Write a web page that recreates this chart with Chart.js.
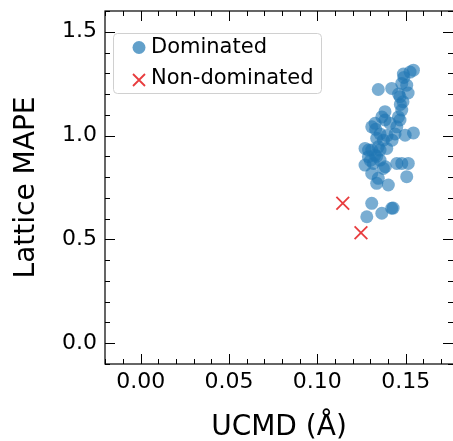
<!DOCTYPE html>
<html>
<head>
<meta charset="utf-8">
<script src="https://cdn.jsdelivr.net/npm/chart.js@4.4.1/dist/chart.umd.min.js"></script>
<style>
  html, body { margin: 0; padding: 0; background: #fff; overflow: hidden; }
  #wrap { width: 453px; height: 441px; position: relative; }
</style>
</head>
<body>
<div id="wrap"><canvas id="chart" width="453" height="441"></canvas></div>
<script>
// =====================
// DATA
// =====================
const domX = [
  0.1544, 0.1487, 0.1525, 0.1345, 0.1421, 0.1478, 0.1506, 0.1514, 0.1468, 0.1485,
  0.1478, 0.1459, 0.1383, 0.1365, 0.1327, 0.1308, 0.1355, 0.1412, 0.1450, 0.1468,
  0.1544, 0.1497, 0.1440, 0.1374, 0.1336, 0.1270, 0.1308, 0.1345, 0.1393, 0.1289,
  0.1327, 0.1270, 0.1317, 0.1374, 0.1355, 0.1450, 0.1478, 0.1515, 0.1506, 0.1308,
  0.1345, 0.1336, 0.1402, 0.1383, 0.1423, 0.1308, 0.1421, 0.1429, 0.1365, 0.1280,
  0.1336, 0.1355, 0.1290, 0.1300, 0.1470, 0.1460, 0.1490, 0.1395, 0.1330, 0.1385
];
const domY = [
  1.315, 1.296, 1.306, 1.222, 1.227, 1.251, 1.243, 1.205, 1.187, 1.163,
  1.123, 1.090, 1.115, 1.090, 1.059, 1.042, 1.008, 1.059, 1.042, 1.075,
  1.013, 1.002, 1.008, 0.978, 0.987, 0.938, 0.930, 0.946, 0.938, 0.898,
  0.906, 0.858, 0.866, 0.842, 0.882, 0.866, 0.866, 0.866, 0.802, 0.818,
  0.794, 0.770, 0.762, 1.075, 0.978, 0.674, 0.650, 0.651, 0.626, 0.609,
  0.900, 0.930, 0.930, 0.880, 1.150, 1.200, 1.280, 1.000, 1.030, 0.850
];
const nondomX = [0.1144, 0.1247];
const nondomY = [0.674, 0.532];

const xTicks = [0.00, 0.05, 0.10, 0.15];
const yTicks = [0.0, 0.5, 1.0, 1.5];
const X_MIN = -0.0202, X_MAX = 0.1768;
const Y_MIN = -0.1, Y_MAX = 1.6;

const FONT = "'DejaVu Sans', sans-serif";

const toPoints = (xs, ys) => xs.map((x, i) => ({ x, y: ys[i] }));

// no automatic padding from tick labels, the layout padding decides
const noScalePad = s => { s.paddingTop = 0; s.paddingBottom = 0; s.paddingLeft = 0; s.paddingRight = 0; };

// =====================
// PLUGIN: frame, inward ticks, legend
// =====================
const framePlugin = {
  id: "frame",
  afterDraw(chart) {
    const { ctx, chartArea: a, scales: { x, y } } = chart;
    ctx.save();
    ctx.strokeStyle = "#000";

    // minor + major ticks, all four sides, pointing inward
    ctx.lineWidth = 1;
    const tickX = (v, len) => {
      const px = Math.round(x.getPixelForValue(v)) + 0.5;
      ctx.beginPath();
      ctx.moveTo(px, a.bottom); ctx.lineTo(px, a.bottom - len);
      ctx.moveTo(px, a.top); ctx.lineTo(px, a.top + len);
      ctx.stroke();
    };
    const tickY = (v, len) => {
      const py = Math.round(y.getPixelForValue(v)) + 0.5;
      ctx.beginPath();
      ctx.moveTo(a.left, py); ctx.lineTo(a.left + len, py);
      ctx.moveTo(a.right, py); ctx.lineTo(a.right - len, py);
      ctx.stroke();
    };
    for (let i = -2; i <= 17; i++) tickX(i / 100, 5);
    for (let i = -1; i <= 16; i++) tickY(i / 10, 5);
    xTicks.forEach(v => tickX(v, 10));
    yTicks.forEach(v => tickY(v, 10));

    ctx.lineWidth = 1.2;
    ctx.strokeRect(a.left, a.top, a.right - a.left + 2, a.bottom - a.top);

    // legend
    const lx = 113, ly = 33, lw = 208, lh = 60, r = 4;
    ctx.fillStyle = "rgba(255,255,255,0.8)";
    ctx.strokeStyle = "#d0d0d0";
    ctx.lineWidth = 1;
    ctx.beginPath();
    ctx.roundRect(lx + 0.5, ly + 0.5, lw, lh, r);
    ctx.fill();
    ctx.stroke();

    ctx.fillStyle = "rgba(31,119,180,0.7)";
    ctx.beginPath();
    ctx.arc(139, 47.5, 6.5, 0, Math.PI * 2);
    ctx.fill();

    ctx.strokeStyle = "rgba(228,26,28,0.85)";
    ctx.lineWidth = 1.8;
    ctx.beginPath();
    ctx.moveTo(133, 74); ctx.lineTo(145, 86);
    ctx.moveTo(145, 74); ctx.lineTo(133, 86);
    ctx.stroke();

    ctx.fillStyle = "#000";
    ctx.font = `21px ${FONT}`;
    ctx.textBaseline = "middle";
    ctx.fillText("Dominated", 151, 48);
    ctx.fillText("Non-dominated", 151, 79);
    ctx.restore();
  }
};

// =====================
// CHART
// =====================
new Chart(document.getElementById("chart"), {
  type: "scatter",
  data: {
    datasets: [
      {
        label: "Dominated",
        data: toPoints(domX, domY),
        backgroundColor: "rgba(31,119,180,0.6)",
        borderWidth: 0,
        pointRadius: 6.5,
        pointHoverRadius: 6.5
      },
      {
        label: "Non-dominated",
        data: toPoints(nondomX, nondomY),
        pointStyle: "crossRot",
        borderColor: "rgba(228,26,28,0.85)",
        borderWidth: 1.8,
        pointRadius: 9,
        pointHoverRadius: 9
      }
    ]
  },
  options: {
    responsive: false,
    animation: false,
    devicePixelRatio: 1,
    layout: { autoPadding: false, padding: { top: 11, right: 0, left: 0, bottom: 0 } },
    plugins: { legend: { display: false }, tooltip: { enabled: false } },
    scales: {
      x: {
        type: "linear",
        min: X_MIN,
        max: X_MAX,
        afterBuildTicks: s => { s.ticks = xTicks.map(v => ({ value: v })); },
        afterFit: s => { s.height = 77; noScalePad(s); },
        grid: { display: false, drawTicks: false },
        border: { display: false },
        ticks: {
          color: "#000",
          font: { family: FONT, size: 22 },
          padding: 5,
          maxRotation: 0,
          callback: v => Number(v).toFixed(2)
        },
        title: {
          display: true,
          text: "UCMD (Å)",
          color: "#000",
          font: { family: FONT, size: 28 },
          padding: { top: 0, bottom: -4 }
        }
      },
      y: {
        type: "linear",
        min: Y_MIN,
        max: Y_MAX,
        afterBuildTicks: s => { s.ticks = yTicks.map(v => ({ value: v })); },
        afterFit: s => { s.width = 105; noScalePad(s); },
        grid: { display: false, drawTicks: false },
        border: { display: false },
        ticks: {
          color: "#000",
          font: { family: FONT, size: 22 },
          padding: 8,
          callback: v => Number(v).toFixed(1)
        },
        title: {
          display: true,
          text: "Lattice MAPE",
          color: "#000",
          font: { family: FONT, size: 28 },
          padding: { top: 10, bottom: 0 }
        }
      }
    }
  },
  plugins: [framePlugin]
});
</script>
</body>
</html>
